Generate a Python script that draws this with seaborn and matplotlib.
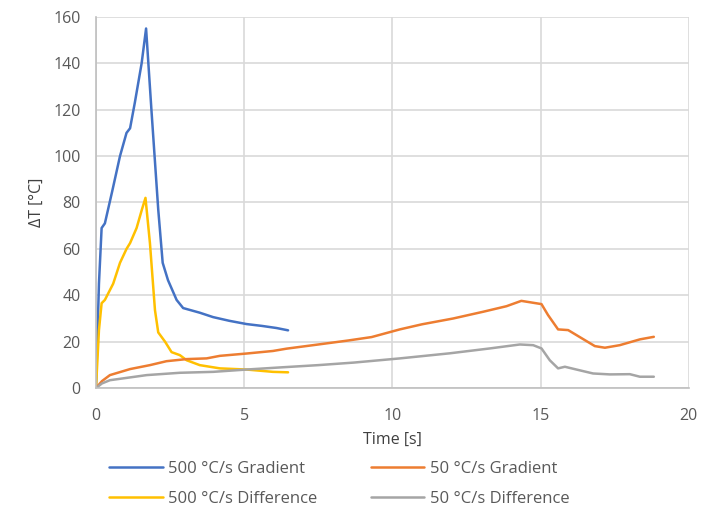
import numpy as np
import pandas as pd
import matplotlib
matplotlib.use("Agg")
import matplotlib.pyplot as plt
import seaborn as sns

# 500 °C/s Gradient
t_500g = [0, 0.1, 0.19, 0.3, 0.55, 0.81, 1.03, 1.15, 1.31, 1.54, 1.69, 1.87, 2.1, 2.25, 2.43, 2.72, 2.94, 3.5, 3.95, 4.5, 5.08, 5.6, 6.09, 6.48]
v_500g = [0, 45, 69, 71, 85, 100, 110, 112, 123, 140, 155, 120, 77, 54, 46.5, 38, 34.5, 32.5, 30.6, 29, 27.6, 26.8, 25.9, 24.9]
# 500 °C/s Difference
t_500d = [0, 0.1, 0.19, 0.3, 0.58, 0.81, 1.03, 1.15, 1.37, 1.55, 1.67, 1.82, 1.99, 2.1, 2.33, 2.55, 2.83, 3.06, 3.5, 4.18, 5.08, 5.97, 6.48]
v_500d = [0, 25, 36.6, 38, 45, 54, 60, 62.5, 69, 77, 82, 62.5, 33.6, 24, 20, 15.5, 14.2, 12, 9.9, 8.5, 8, 7, 6.8]
# 50 °C/s Gradient
t_50g = [0, 0.2, 0.47, 1.15, 1.82, 2.38, 3.06, 3.73, 4.18, 5.08, 5.97, 6.43, 7.5, 8.5, 9.3, 10.25, 11.0, 12.05, 13.06, 13.85, 14.35, 15.03, 15.25, 15.59, 15.93, 16.32, 16.83, 17.17, 17.67, 18.35, 18.82]
v_50g = [0, 3, 5.6, 8.2, 9.9, 11.6, 12.5, 12.8, 13.9, 14.9, 16, 17, 18.8, 20.5, 22, 25.3, 27.5, 30, 32.9, 35.3, 37.6, 36.2, 31.5, 25.3, 25, 22, 18.1, 17.4, 18.5, 21, 22.1]
# 50 °C/s Difference
t_50d = [0, 0.2, 0.47, 1.71, 2.83, 3.95, 5.08, 6.2, 7.5, 8.7, 10.25, 11.94, 13.29, 14.3, 14.75, 15.03, 15.31, 15.59, 15.82, 16.21, 16.77, 17.34, 18.01, 18.35, 18.82]
v_50d = [0, 2, 3.4, 5.6, 6.6, 7, 8, 8.9, 9.9, 11, 12.8, 15, 17.1, 18.8, 18.5, 17.1, 12, 8.5, 9.2, 8, 6.3, 5.9, 6, 4.9, 4.9]

series_names = ["500 °C/s Gradient", "500 °C/s Difference", "50 °C/s Gradient", "50 °C/s Difference"]
colors = ["#4472C4", "#FFC000", "#ED7D31", "#A5A5A5"]

frames = []
for name, t, v in [(series_names[0], t_500g, v_500g), (series_names[1], t_500d, v_500d),
                   (series_names[2], t_50g, v_50g), (series_names[3], t_50d, v_50d)]:
    frames.append(pd.DataFrame({"Time": t, "dT": v, "Series": name}))
df = pd.concat(frames, ignore_index=True)

sns.set_style("white")
plt.rcParams['font.family'] = ['Open Sans', 'DejaVu Sans']

fig = plt.figure(figsize=(7.19, 5.12), dpi=100)
ax = fig.add_axes([0.1335, 0.242, 0.8245, 0.725])

sns.lineplot(data=df, x="Time", y="dT", hue="Series", hue_order=series_names,
             palette=colors, linewidth=1.8, sort=False, estimator=None, ax=ax, legend=True)

ax.set_xlim(0, 20)
ax.set_ylim(0, 160)
ax.set_xticks([0, 5, 10, 15, 20])
ax.set_yticks(range(0, 161, 20))
ax.grid(True, color="#D9D9D9", linewidth=1.2)
ax.set_axisbelow(True)
for s in ["top", "right"]:
    ax.spines[s].set_visible(False)
for s in ["left", "bottom"]:
    ax.spines[s].set_color("#BFBFBF")
    ax.spines[s].set_linewidth(1.2)
ax.tick_params(axis="x", colors="#595959", labelsize=11.5, length=0, pad=14)
ax.tick_params(axis="y", colors="#595959", labelsize=11.5, length=0, pad=11)
ax.set_xlabel("Time [s]", fontsize=11.5, color="#404040", labelpad=6)
ax.set_ylabel("ΔT [°C]", fontsize=11.5, color="#404040", labelpad=6)

ax.legend_.remove()
handles, labels = ax.get_legend_handles_labels()
leg = fig.legend(handles, labels, loc="upper left", bbox_to_anchor=(0.152, 0.100),
                 ncol=2, frameon=False, fontsize=12, handlelength=3.2,
                 columnspacing=3.2, handletextpad=0.35, labelspacing=0.85,
                 borderaxespad=0, borderpad=0)
for txt in leg.get_texts():
    txt.set_color("#595959")

fig.savefig("out.png", dpi=100)
